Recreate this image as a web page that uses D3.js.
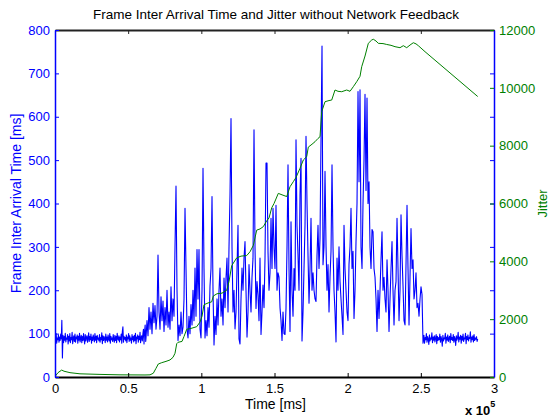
<!DOCTYPE html>
<html>
<head>
<meta charset="utf-8">
<script src="https://cdn.jsdelivr.net/npm/d3@7"></script>
<style>
  html, body { margin: 0; padding: 0; background: #fff; }
  svg { display: block; font-family: "Liberation Sans", Arial, Helvetica, sans-serif; }
</style>
</head>
<body>
<svg id="chart" width="550" height="419"></svg>
<script>
// ---------------- DATA ----------------
const chartTitle = "Frame Inter Arrival Time and Jitter without Network Feedback";
const xLabel = "Time [ms]";
const yLeftLabel = "Frame Inter Arrival Time [ms]";
const yRightLabel = "Jitter";

const xTicks = [0, 50000, 100000, 150000, 200000, 250000, 300000];
const xTickLabels = ["0", "0.5", "1", "1.5", "2", "2.5", "3"];
const yLeftTicks = [0, 100, 200, 300, 400, 500, 600, 700, 800];
const yRightTicks = [0, 2000, 4000, 6000, 8000, 10000, 12000];

// time span (ms) of each frame inter arrival segment
const iatEarlySpan = [0, 62000];
const iatMidSpan = [62190, 251490];
const iatLateSpan = [251700, 288870];

// frame inter arrival time [ms], steady phase before congestion
const iatEarly = [
  95, 82, 100, 78, 90, 86, 97, 80, 92, 84, 99, 88, 131, 44, 96, 79, 93, 85, 101, 81,
  90, 87, 98, 76, 94, 83, 100, 79, 91, 86, 103, 77, 89, 95, 82, 99, 80, 92, 88, 97,
  78, 94, 85, 101, 81, 90, 96, 79, 93, 84, 100, 87, 76, 98, 83, 91, 95, 80, 89, 102,
  82, 93, 86, 99, 78, 92, 84, 97, 88, 81, 100, 85, 94, 79, 96, 87, 90, 83, 98, 80,
  91, 86, 102, 77, 95, 84, 93, 89, 79, 99, 85, 92, 81, 97, 88, 83, 100, 78, 94, 86,
  90, 82, 98, 87, 80, 96, 84, 93, 79, 101, 88, 85, 95, 81, 92, 86, 99, 78, 104, 116,
  80, 94, 87, 91, 83, 97, 79, 92, 88, 100, 82, 95, 85, 90, 78, 98, 86, 93, 81, 96,
  84, 101, 77, 92, 88, 97, 80, 94, 86, 103, 79, 91, 95, 83, 99, 110, 76, 105, 120, 82
];

// frame inter arrival time [ms], congested phase
const iatMid = [
  90, 130, 95, 160, 110, 150, 100, 170, 125, 165, 110, 140, 281, 150, 110, 185, 130, 175, 105, 160,
  120, 200, 115, 150, 110, 208, 130, 180, 140, 300, 440, 200, 84, 120, 95, 150, 100, 115, 180, 389,
  250, 110, 90, 140, 100, 167, 120, 200, 130, 251, 140, 294, 180, 294, 110, 90, 200, 481, 250, 90,
  130, 95, 160, 115, 210, 250, 416, 200, 74, 140, 98, 180, 120, 200, 251, 140, 180, 120, 228, 160,
  228, 274, 150, 300, 420, 596, 300, 150, 200, 111, 150, 250, 350, 88, 76, 180, 251, 200, 274, 312,
  200, 92, 150, 259, 200, 150, 230, 274, 570, 300, 158, 220, 189, 130, 274, 98, 150, 212, 160, 274,
  493, 493, 289, 200, 240, 366, 250, 389, 300, 250, 396, 200, 240, 230, 160, 130, 84, 150, 100, 98,
  158, 300, 489, 250, 105, 358, 200, 140, 250, 200, 547, 350, 281, 200, 420, 504, 83, 150, 250, 350,
  555, 400, 281, 170, 250, 366, 200, 240, 200, 180, 174, 280, 350, 250, 320, 550, 763, 259, 300, 474,
  304, 200, 259, 150, 230, 290, 489, 300, 200, 150, 81, 274, 200, 300, 220, 180, 140, 98, 350, 250,
  200, 150, 130, 260, 300, 389, 250, 290, 135, 200, 312, 400, 658, 450, 662, 300, 250, 400, 500, 652,
  430, 643, 400, 450, 300, 250, 340, 335, 250, 230, 180, 105, 200, 135, 200, 270, 335, 200, 230, 180,
  150, 270, 200, 105, 180, 250, 312, 200, 120, 200, 220, 366, 250, 130, 200, 374, 280, 210, 130, 120,
  260, 396, 250, 120, 230, 342, 250, 270, 180, 200, 240, 160, 170, 140, 180, 208, 190, 78
];

// frame inter arrival time [ms], steady phase after congestion
const iatLate = [
  84, 96, 78, 91, 86, 100, 80, 93, 88, 75, 97, 83, 90, 87, 102, 79, 92, 85, 95, 81,
  89, 98, 77, 94, 84, 91, 86, 99, 80, 93, 87, 71, 96, 83, 90, 88, 101, 78, 92, 85,
  97, 82, 89, 94, 79, 100, 86, 91, 84, 98, 80, 93, 88, 73, 95, 85, 90, 103, 81, 92,
  87, 96, 78, 94, 85, 99, 82, 90, 88, 101, 77, 93, 86, 97, 83, 91, 89, 104, 80, 92,
  86, 95, 81, 98, 84, 90, 87, 93, 82, 88
];

// jitter curve: sample times [ms] and values
const jitterTime = [
  0, 683, 2050, 4580, 6150, 10250, 17085, 30750, 44420, 61500,
  64920, 67180, 69020, 70600, 72920, 75860, 78590, 80640, 82010, 83170,
  84060, 86790, 88160, 90000, 92940, 96840, 99090, 100460, 101830, 104560,
  107090, 108180, 110710, 114130, 117340, 118910, 120760, 124170, 127110, 131010,
  133260, 135520, 137840, 140100, 142350, 144680, 146250, 148090, 149670, 152600,
  155130, 158340, 160600, 162850, 164700, 167430, 169690, 172010, 173100, 175630,
  177680, 179730, 181100, 182260, 184520, 187250, 189100, 191350, 193400, 195930,
  199350, 201600, 203860, 206180, 208440, 209600, 211860, 214110, 216430, 217530,
  219370, 220940, 224150, 226680, 229620, 232360, 235770, 238030, 240350, 242610,
  244860, 246710, 248280, 252860, 288870
];
const jitterValue = [
  0, 60, 150, 240, 200, 150, 110, 90, 75, 70,
  75, 130, 300, 450, 495, 540, 590, 680, 820, 1150,
  1200, 1230, 1400, 1650, 1680, 1740, 1900, 2100, 2500, 2560,
  2600, 2800, 2880, 2900, 3000, 3300, 3850, 4120, 4180, 4200,
  4330, 4550, 5080, 5120, 5200, 5400, 5500, 5850, 6000, 6350,
  6300, 6240, 6580, 6754, 6900, 7217, 7504, 7620, 7950, 8050,
  8137, 8250, 8310, 9175, 9520, 9560, 9578, 9925, 9880, 9866,
  9925, 9880, 10040, 10212, 10400, 10731, 11100, 11540, 11654, 11680,
  11620, 11539, 11530, 11500, 11470, 11423, 11388, 11458, 11388, 11480,
  11560, 11520, 11458, 11250, 9700
];

// ---------------- LAYOUT ----------------
const mLeft = 55, mRight = 494, mTop = 30, mBottom = 377;
const blue = "#0000ff", green = "#008000";

const svg = d3.select("#chart");
const x = d3.scaleLinear().domain([0, 300000]).range([mLeft, mRight]);
const yL = d3.scaleLinear().domain([0, 800]).range([mBottom, mTop]);
const yR = d3.scaleLinear().domain([0, 12000]).range([mBottom, mTop]);

function spread(values, span) {
  const n = values.length;
  return values.map((v, i) => ({ t: span[0] + (span[1] - span[0]) * i / (n - 1), v }));
}
const iatPoints = [].concat(
  spread(iatEarly, iatEarlySpan),
  spread(iatMid, iatMidSpan),
  spread(iatLate, iatLateSpan)
);
const jitterPoints = jitterTime.map((t, i) => ({ t, v: jitterValue[i] }));

svg.append("defs").append("clipPath").attr("id", "plotclip")
  .append("rect").attr("x", mLeft).attr("y", mTop).attr("width", mRight - mLeft).attr("height", mBottom - mTop);

// blue series
svg.append("path")
  .datum(iatPoints)
  .attr("clip-path", "url(#plotclip)")
  .attr("fill", "none")
  .attr("stroke", blue)
  .attr("stroke-width", 1.1)
  .attr("stroke-linejoin", "round")
  .attr("d", d3.line().x(d => x(d.t)).y(d => yL(d.v)));

// green series
svg.append("path")
  .datum(jitterPoints)
  .attr("clip-path", "url(#plotclip)")
  .attr("fill", "none")
  .attr("stroke", green)
  .attr("stroke-width", 1)
  .attr("stroke-linejoin", "round")
  .attr("d", d3.line().x(d => x(d.t)).y(d => yR(d.v)));

// ---------------- AXES ----------------
const fontSize = 13;
const ff = "Liberation Sans, Arial, sans-serif";

const gB = svg.append("g").attr("transform", `translate(0,${mBottom})`)
  .call(d3.axisBottom(x).tickValues(xTicks).tickFormat((d, i) => xTickLabels[i]).tickSizeInner(-4).tickSizeOuter(0).tickPadding(7));
gB.select(".domain").attr("stroke", "#000").attr("stroke-width", 2);
gB.selectAll(".tick line").attr("stroke", "#000");
gB.selectAll("text").attr("font-size", fontSize).attr("fill", "#000").attr("font-family", ff);

const gT = svg.append("g").attr("transform", `translate(0,${mTop})`)
  .call(d3.axisTop(x).tickValues(xTicks).tickFormat("").tickSizeInner(-4).tickSizeOuter(0));
gT.select(".domain").attr("stroke", "#222").attr("stroke-width", 2);
gT.selectAll(".tick line").attr("stroke", "#222");

const gL = svg.append("g").attr("transform", `translate(${mLeft},0)`)
  .call(d3.axisLeft(yL).tickValues(yLeftTicks).tickSizeInner(-4).tickSizeOuter(0).tickPadding(5));
gL.select(".domain").attr("stroke", blue).attr("stroke-width", 1.5);
gL.selectAll(".tick line").attr("stroke", blue);
gL.selectAll("text").attr("font-size", fontSize).attr("fill", blue).attr("font-family", ff);

const gRb = svg.append("g").attr("transform", `translate(${mRight},0)`)
  .call(d3.axisRight(yL).tickValues(yLeftTicks).tickFormat("").tickSizeInner(-4).tickSizeOuter(0));
gRb.select(".domain").attr("stroke", blue).attr("stroke-width", 1.5);
gRb.selectAll(".tick line").attr("stroke", blue);

const gR = svg.append("g").attr("transform", `translate(${mRight},0)`)
  .call(d3.axisRight(yR).tickValues(yRightTicks).tickFormat(d3.format("d")).tickSizeInner(-4).tickSizeOuter(0).tickPadding(5));
gR.select(".domain").remove();
gR.selectAll(".tick line").attr("stroke", green);
gR.selectAll("text").attr("font-size", fontSize).attr("fill", green).attr("font-family", ff);

// ---------------- LABELS ----------------
svg.append("text")
  .attr("x", 276).attr("y", 19)
  .attr("text-anchor", "middle").attr("font-size", 13.5).attr("fill", "#000")
  .text(chartTitle);

svg.append("text")
  .attr("x", (mLeft + mRight) / 2 + 1).attr("y", 409)
  .attr("text-anchor", "middle").attr("font-size", 14).attr("fill", "#000")
  .text(xLabel);

const mult = svg.append("text")
  .attr("x", 465).attr("y", 415)
  .attr("font-size", 13).attr("font-weight", "bold").attr("fill", "#000");
mult.append("tspan").text("x 10");
mult.append("tspan").attr("font-size", 9).attr("dy", -8).text("5");

svg.append("text")
  .attr("transform", `translate(21,${(mTop + mBottom) / 2}) rotate(-90)`)
  .attr("text-anchor", "middle").attr("font-size", 14).attr("fill", blue)
  .text(yLeftLabel);

svg.append("text")
  .attr("transform", `translate(547,${(mTop + mBottom) / 2}) rotate(-90)`)
  .attr("text-anchor", "middle").attr("font-size", 13).attr("fill", green)
  .text(yRightLabel);
</script>
</body>
</html>
